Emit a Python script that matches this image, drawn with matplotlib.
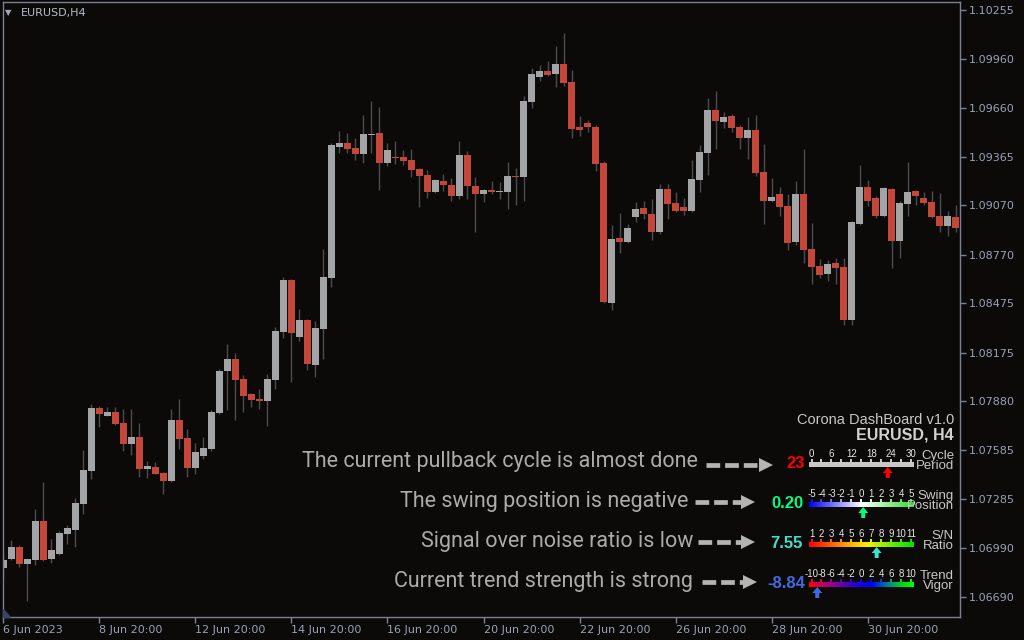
import numpy as np
import matplotlib.pyplot as plt
from matplotlib.patches import Polygon
from matplotlib.colors import LinearSegmentedColormap

# EURUSD H4 candles, 6 Jun - 3 Jul 2023
opens = [
    1.06870, 1.06925, 1.06996, 1.06894, 1.06919, 1.07154, 1.06925, 1.06955, 1.07076, 1.07101,
    1.07259, 1.07459, 1.07839, 1.07791, 1.07815, 1.07748, 1.07623, 1.07663, 1.07471, 1.07481,
    1.07445, 1.07398, 1.07767, 1.07657, 1.07477, 1.07550, 1.07592, 1.07809, 1.08064, 1.08137,
    1.08016, 1.07924, 1.07894, 1.07882, 1.08009, 1.08301, 1.08616, 1.08270, 1.08374, 1.08100,
    1.08319, 1.08629, 1.09424, 1.09448, 1.09418, 1.09381, 1.09497, 1.09509, 1.09327, 1.09363,
    1.09363, 1.09345, 1.09290, 1.09254, 1.09151, 1.09217, 1.09193, 1.09126, 1.09375, 1.09187,
    1.09138, 1.09163, 1.09151, 1.09151, 1.09248, 1.09242, 1.09697, 1.09849, 1.09885, 1.09867,
    1.09928, 1.09818, 1.09545, 1.09569, 1.09545, 1.09327, 1.08477, 1.08871, 1.08847, 1.08999,
    1.09053, 1.09017, 1.08908, 1.09169, 1.09084, 1.09059, 1.09035, 1.09223, 1.09387, 1.09648,
    1.09576, 1.09612, 1.09545, 1.09478, 1.09527, 1.09272, 1.09096, 1.09138, 1.09066, 1.08847,
    1.09138, 1.08805, 1.08701, 1.08653, 1.08720, 1.08695, 1.08374, 1.08956, 1.09181, 1.09114,
    1.09005, 1.09169, 1.08853, 1.09078, 1.09157, 1.09114, 1.09090, 1.09005, 1.08944, 1.08999,
]
highs = [
    1.06959, 1.07038, 1.07008, 1.06925, 1.07226, 1.07390, 1.07044, 1.07093, 1.07129, 1.07295,
    1.07585, 1.07864, 1.07852, 1.07846, 1.07846, 1.07833, 1.07833, 1.07748, 1.07518, 1.07512,
    1.07453, 1.07833, 1.07894, 1.07712, 1.07627, 1.07663, 1.07827, 1.08076, 1.08228, 1.08173,
    1.08040, 1.07930, 1.07955, 1.08046, 1.08331, 1.08635, 1.08622, 1.08440, 1.08380, 1.08368,
    1.08805, 1.09448, 1.09521, 1.09509, 1.09478, 1.09618, 1.09703, 1.09667, 1.09448, 1.09460,
    1.09406, 1.09412, 1.09296, 1.09284, 1.09229, 1.09260, 1.09235, 1.09460, 1.09399, 1.09242,
    1.09169, 1.09217, 1.09211, 1.09333, 1.09296, 1.09733, 1.09903, 1.09921, 1.09946, 1.10037,
    1.10116, 1.09891, 1.09612, 1.09588, 1.09557, 1.09339, 1.08950, 1.09023, 1.08956, 1.09090,
    1.09096, 1.09108, 1.09199, 1.09199, 1.09151, 1.09114, 1.09345, 1.09436, 1.09721, 1.09764,
    1.09636, 1.09624, 1.09557, 1.09606, 1.09618, 1.09442, 1.09235, 1.09181, 1.09138, 1.09217,
    1.09412, 1.08962, 1.08744, 1.08738, 1.08750, 1.08750, 1.08975, 1.09314, 1.09223, 1.09126,
    1.09181, 1.09175, 1.09096, 1.09333, 1.09163, 1.09151, 1.09157, 1.09144, 1.09035, 1.09072,
]
lows = [
    1.06814, 1.06917, 1.06874, 1.06670, 1.06886, 1.06912, 1.06900, 1.06949, 1.07016, 1.06998,
    1.07198, 1.07410, 1.07726, 1.07789, 1.07738, 1.07580, 1.07556, 1.07421, 1.07416, 1.07436,
    1.07319, 1.07392, 1.07592, 1.07422, 1.07441, 1.07532, 1.07580, 1.07803, 1.07827, 1.07767,
    1.07815, 1.07846, 1.07833, 1.07732, 1.07955, 1.08264, 1.07997, 1.08246, 1.08070, 1.08028,
    1.08137, 1.08574, 1.09387, 1.09387, 1.09345, 1.09327, 1.09387, 1.09163, 1.09308, 1.09321,
    1.09314, 1.09242, 1.09059, 1.09114, 1.09144, 1.09157, 1.09096, 1.09108, 1.09108, 1.08908,
    1.09090, 1.09138, 1.09108, 1.09047, 1.09072, 1.09096, 1.09660, 1.09824, 1.09855, 1.09788,
    1.09794, 1.09478, 1.09490, 1.09515, 1.09278, 1.08477, 1.08434, 1.08780, 1.08843, 1.08968,
    1.08987, 1.08859, 1.08896, 1.08987, 1.09029, 1.09011, 1.09029, 1.09151, 1.09254, 1.09412,
    1.09539, 1.09515, 1.09412, 1.09351, 1.09248, 1.08956, 1.09090, 1.09005, 1.08799, 1.08829,
    1.08720, 1.08592, 1.08629, 1.08610, 1.08592, 1.08343, 1.08343, 1.08950, 1.09066, 1.08993,
    1.08999, 1.08689, 1.08750, 1.09005, 1.09072, 1.09072, 1.08993, 1.08908, 1.08884, 1.08908,
]
closes = [
    1.06917, 1.06996, 1.06894, 1.06923, 1.07154, 1.06919, 1.06978, 1.07081, 1.07111, 1.07263,
    1.07463, 1.07839, 1.07805, 1.07815, 1.07744, 1.07623, 1.07663, 1.07471, 1.07487, 1.07441,
    1.07398, 1.07767, 1.07653, 1.07477, 1.07572, 1.07597, 1.07815, 1.08064, 1.08137, 1.08009,
    1.07912, 1.07888, 1.07882, 1.08016, 1.08307, 1.08616, 1.08295, 1.08374, 1.08107, 1.08325,
    1.08635, 1.09436, 1.09448, 1.09412, 1.09381, 1.09503, 1.09503, 1.09327, 1.09406, 1.09357,
    1.09339, 1.09284, 1.09248, 1.09151, 1.09223, 1.09193, 1.09126, 1.09375, 1.09187, 1.09138,
    1.09163, 1.09151, 1.09157, 1.09248, 1.09242, 1.09703, 1.09867, 1.09885, 1.09861, 1.09928,
    1.09812, 1.09533, 1.09527, 1.09545, 1.09321, 1.08483, 1.08865, 1.08847, 1.08932, 1.09047,
    1.09017, 1.08908, 1.09169, 1.09078, 1.09035, 1.09035, 1.09229, 1.09393, 1.09648, 1.09582,
    1.09606, 1.09539, 1.09478, 1.09527, 1.09266, 1.09096, 1.09120, 1.09059, 1.08841, 1.09138,
    1.08799, 1.08695, 1.08647, 1.08714, 1.08689, 1.08374, 1.08968, 1.09181, 1.09096, 1.09005,
    1.09175, 1.08853, 1.09084, 1.09151, 1.09126, 1.09084, 1.08999, 1.08944, 1.09005, 1.08932,
]

date_labels = ["6 Jun 2023", "8 Jun 20:00", "12 Jun 20:00", "14 Jun 20:00", "16 Jun 20:00",
               "20 Jun 20:00", "22 Jun 20:00", "26 Jun 20:00", "28 Jun 20:00", "30 Jun 20:00"]
bars_per_label = 12

price_ticks = [1.10255, 1.09960, 1.09660, 1.09365, 1.09070, 1.08770, 1.08475,
               1.08175, 1.07880, 1.07585, 1.07285, 1.06990, 1.06690]

# Corona dashboard readings
notes = ["The current pullback cycle is almost done",
         "The swing position is negative",
         "Signal over noise ratio is low",
         "Current trend strength is strong"]
readings = [23, 0.20, 7.55, -8.84]
reading_text = ["23", "0.20", "7.55", "-8.84"]
reading_colors = ["#ff0000", "#00ff7f", "#40e0d0", "#4169e1"]
scale_min = [0, -5, 1, -10]
scale_max = [30, 5, 11, 10]
scale_labels = [[0, 6, 12, 18, 24, 30],
                [-5, -4, -3, -2, -1, 0, 1, 2, 3, 4, 5],
                [1, 2, 3, 4, 5, 6, 7, 8, 9, 10, 11],
                [-10, -8, -6, -4, -2, 0, 2, 4, 6, 8, 10]]
names = [("Cycle", "Period"), ("Swing", "Position"), ("S/N", "Ratio"), ("Trend", "Vigor")]

BG = "#0c0a09"
FRAME = "#7c8192"
TXT = "#9aa2b4"
RED = "#c4473a"
GRAY = "#a3a4a6"
WICK = "#4c4c50"

plt.rcParams['font.family'] = ['DejaVu Sans']

fig = plt.figure(figsize=(10.24, 6.4), dpi=100, facecolor=BG)
ax = fig.add_axes([3 / 1024, 1 - 617 / 640, 957 / 1024, 615 / 640], facecolor=BG)

o = np.array(opens)
h = np.array(highs)
l = np.array(lows)
c = np.array(closes)
x = np.arange(len(o))
up = c >= o

ax.vlines(x, l, h, color=WICK, lw=1, zorder=1)
body_lo = np.minimum(o, c)
body_h = np.maximum(np.abs(c - o), 0.00004)
ax.bar(x, body_h, bottom=body_lo, width=0.85, color=np.where(up, GRAY, RED),
       linewidth=0, zorder=2)

ax.set_xlim(-0.06, 119.56)
ax.set_ylim(1.06571, 1.10304)

ax.yaxis.tick_right()
ax.set_yticks(price_ticks)
ax.set_yticklabels([f"{p:.5f}" for p in price_ticks])
ax.set_xticks(np.arange(len(date_labels)) * bars_per_label)
ax.set_xticklabels(date_labels)
for lab in ax.get_xticklabels():
    lab.set_ha('left')
ax.tick_params(colors=FRAME, labelcolor=TXT, labelsize=8, length=4, width=1, pad=2)
for sp in ax.spines.values():
    sp.set_color(FRAME)
    sp.set_linewidth(1)

# overlay in pixel coordinates for the labels and the dashboard
ov = fig.add_axes([0, 0, 1, 1], zorder=5)
ov.set_xlim(0, 1024)
ov.set_ylim(640, 0)
ov.axis('off')
ov.set_facecolor('none')

ov.text(5, 13, "\u25bc", color="#a0a8b8", fontsize=6, va='center')
ov.text(21, 13, "EURUSD,H4", color="#b4bccb", fontsize=8, va='center')
ov.add_patch(Polygon([(3, 609), (3, 617), (10, 617)], closed=True, color="#3c4266"))

ov.text(954, 424.5, "Corona DashBoard v1.0", color="#c8c8c8", fontsize=10.5,
        family="Liberation Sans", ha='right', va='baseline')
ov.text(954, 440, "EURUSD, H4", color="#d2d2d2", fontsize=11.5, fontweight='bold',
        family="Liberation Sans", ha='right', va='baseline')

cmaps = [
    None,
    LinearSegmentedColormap.from_list("swing", ["#0000ff", "#ffffff", "#2edc2e"]),
    LinearSegmentedColormap.from_list("sn", [(0, "#ff0000"), (0.3, "#ff8800"), (0.55, "#ffee00"),
                                             (0.8, "#66ee00"), (1, "#00e000")]),
    LinearSegmentedColormap.from_list("vigor", [(0, "#ff0000"), (0.2, "#a0008c"), (0.45, "#2000e0"),
                                                (0.6, "#0000ff"), (0.75, "#0080a0"), (0.9, "#00e000"),
                                                (1, "#00ff00")]),
]

note_right = [698, 688, 693, 693]
note_y = [461, 501, 542, 582]
arrow_x = [(706, 773), (695, 755), (698, 755), (702, 757)]
arrow_y = [465, 502, 542, 582]
value_right = [805, 803, 803, 805]
value_y = [463, 503, 544, 584]
bar_top = [462, 502, 542, 582]
bar_h = 5
sx0, sx1 = 811.5, 911.0

def scale_x(v, i):
    return sx0 + (v - scale_min[i]) / (scale_max[i] - scale_min[i]) * (sx1 - sx0)

for i in range(4):
    ov.text(note_right[i], note_y[i], notes[i], color="#ababab", fontsize=15.5,
            family="Roboto", ha='right', va='center')

    # dashed pointer
    a0, a1 = arrow_x[i]
    ay = arrow_y[i]
    ov.plot([a0, a1 - 12], [ay, ay], color="#b4b4b4", lw=3.4, ls=(0, (2.9, 1.05)),
            solid_capstyle='butt', dash_capstyle='butt')
    ov.add_patch(Polygon([(a1 - 14, ay - 7), (a1, ay), (a1 - 14, ay + 7)], closed=True,
                         color="#b4b4b4", lw=0))

    ov.text(value_right[i], value_y[i], reading_text[i], color=reading_colors[i],
            fontsize=12, fontweight='bold', family="Liberation Sans", ha='right', va='center')

    # scale bar
    top = bar_top[i]
    if cmaps[i] is None:
        ov.add_patch(plt.Rectangle((809, top), 105, bar_h, color="#c8c8c8", lw=0))
    else:
        grad = np.linspace(0, 1, 256).reshape(1, -1)
        ov.imshow(grad, cmap=cmaps[i], extent=(809, 914, top + bar_h, top),
                  aspect='auto', interpolation='bilinear', zorder=2)
    for k in range(11):
        tx = sx0 + k * (sx1 - sx0) / 10
        col = "#c8c8c8" if cmaps[i] is None else cmaps[i]((tx - 809) / 105)
        ov.add_patch(plt.Rectangle((tx - 1, top - 3), 2, 3, color=col, lw=0, zorder=2))
    for v in scale_labels[i]:
        ov.text(scale_x(v, i), top - 8, str(v), color="#e6e6e6", fontsize=7,
                family="Liberation Sans", ha='center', va='center')

    # reading marker
    mx = scale_x(readings[i], i)
    ty = top + bar_h
    ov.add_patch(Polygon([(mx, ty), (mx + 5, ty + 6), (mx + 2, ty + 6), (mx + 2, ty + 11),
                          (mx - 2, ty + 11), (mx - 2, ty + 6), (mx - 5, ty + 6)],
                         closed=True, color=reading_colors[i], lw=0, zorder=3))

    ov.text(954, top - 6, names[i][0], color="#c8c8c8", fontsize=9.5,
            family="Liberation Sans", ha='right', va='center')
    ov.text(954, top + 4, names[i][1], color="#c8c8c8", fontsize=9.5,
            family="Liberation Sans", ha='right', va='center')

ov.set_xlim(0, 1024)
ov.set_ylim(640, 0)

fig.savefig("out.png", dpi=100, facecolor=BG)
